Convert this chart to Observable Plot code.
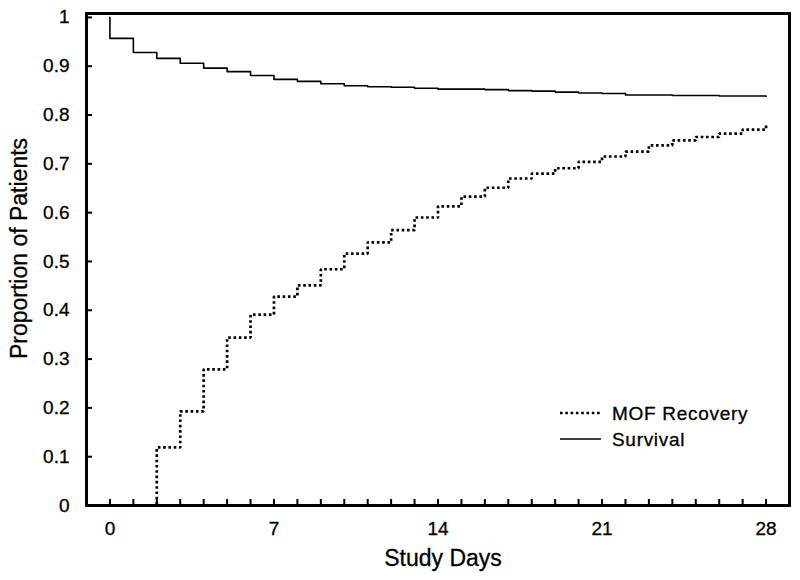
<!DOCTYPE html>
<html>
<head>
<meta charset="utf-8">
<script src="https://cdn.jsdelivr.net/npm/d3@7"></script>
<script src="https://cdn.jsdelivr.net/npm/@observablehq/plot@0.6"></script>
<style>
  body { margin: 0; background: #fff; }
  #chart svg { display: block; }
  #chart svg text { stroke: black; stroke-width: 0.3px; }
</style>
</head>
<body>
<div id="chart"></div>
<script>
// ---- data ----
const survivalDays   = [0, 0, 1, 2, 3, 4, 5, 6, 7, 8, 9, 10, 11, 12, 13, 14, 15, 16, 17, 18, 19, 20, 21, 22, 23, 24, 25, 26, 27, 28];
const survivalValues = [1.0, 0.957, 0.928, 0.916, 0.906, 0.896, 0.889, 0.881, 0.873, 0.869, 0.864, 0.860, 0.858, 0.857, 0.855, 0.853, 0.853, 0.852, 0.850, 0.849, 0.847, 0.845, 0.844, 0.841, 0.841, 0.840, 0.840, 0.839, 0.839, 0.838];

const recoveryDays   = [0, 1, 2, 3, 4, 5, 6, 7, 8, 9, 10, 11, 12, 13, 14, 15, 16, 17, 18, 19, 20, 21, 22, 23, 24, 25, 26, 27, 28];
const recoveryValues = [0, 0, 0.119, 0.193, 0.279, 0.344, 0.391, 0.428, 0.451, 0.484, 0.516, 0.539, 0.564, 0.590, 0.613, 0.633, 0.651, 0.670, 0.680, 0.691, 0.704, 0.715, 0.725, 0.738, 0.748, 0.755, 0.762, 0.770, 0.783];

const seriesNames = ["MOF Recovery", "Survival"];
const xTickDays   = [0, 1, 2, 3, 4, 5, 6, 7, 8, 9, 10, 11, 12, 13, 14, 15, 16, 17, 18, 19, 20, 21, 22, 23, 24, 25, 26, 27, 28];
const xTickLabels = [0, 7, 14, 21, 28];
const yTicks      = [0, 0.1, 0.2, 0.3, 0.4, 0.5, 0.6, 0.7, 0.8, 0.9, 1];
const xTitle = "Study Days";
const yTitle = "Proportion of Patients";

// ---- tables ----
const survival = survivalDays.map((d, i) => ({day: d, value: survivalValues[i]}));
const recovery = recoveryDays.map((d, i) => ({day: d, value: recoveryValues[i]}));

const FONT = "'Liberation Sans', Arial, Helvetica, sans-serif";
const dotted = "2.6,2.7";

// legend drawn inside the frame, bottom-right
function legend(index, scales, values, dims) {
  const g = d3.create("svg:g");
  const right = dims.width - dims.marginRight;
  const bottom = dims.height - dims.marginBottom;
  const styles = [
    {dash: dotted, width: 2.7},
    {dash: null, width: 1.6}
  ];
  seriesNames.forEach((name, i) => {
    const y = bottom - 92 + i * 26;
    g.append("line")
      .attr("x1", right - 229).attr("x2", right - 188)
      .attr("y1", y).attr("y2", y)
      .attr("stroke", "black")
      .attr("stroke-width", styles[i].width)
      .attr("stroke-linecap", "butt")
      .attr("stroke-dasharray", styles[i].dash);
    g.append("text")
      .attr("x", right - 177).attr("y", y)
      .attr("dy", "0.36em")
      .attr("text-anchor", "start")
      .attr("font-size", 19)
      .attr("letter-spacing", "0.7px")
      .attr("font-family", FONT)
      .attr("fill", "black")
      .text(name);
  });
  return g.node();
}

const chart = Plot.plot({
  width: 800,
  height: 580,
  marginLeft: 86,
  marginRight: 11,
  marginTop: 13,
  marginBottom: 75,
  x: {domain: [-1, 29]},
  y: {domain: [0, 1.008]},
  style: {fontFamily: FONT, background: "white", color: "black", overflow: "visible"},
  marks: [
    // inward minor ticks
    Plot.axisX(xTickDays, {tickSize: 6, dy: -6, strokeWidth: 2, tickFormat: () => "", label: null}),
    Plot.axisY(yTicks, {tickSize: 6, dx: 6, strokeWidth: 2, tickFormat: () => "", label: null}),
    // tick labels
    Plot.axisX(xTickLabels, {tickSize: 0, tickPadding: 16, fontSize: 19, letterSpacing: "0.7px", tickFormat: d => String(d), label: null}),
    Plot.axisY(yTicks, {tickSize: 0, tickPadding: 17, fontSize: 19, letterSpacing: "0.7px", tickFormat: d => String(d), label: null}),
    // curves
    Plot.line(recovery, {x: "day", y: "value", curve: "step-after", stroke: "black", strokeWidth: 2.7, strokeDasharray: dotted, strokeLinecap: "butt", strokeLinejoin: "miter"}),
    Plot.line(survival, {x: "day", y: "value", curve: "step-after", stroke: "black", strokeWidth: 1.6}),
    Plot.frame({stroke: "black", strokeWidth: 3}),
    // axis titles
    Plot.text([xTitle], {frameAnchor: "bottom", textAnchor: "middle", lineAnchor: "middle", dx: 5, dy: 53, fontSize: 23, letterSpacing: "0.8px", text: d => d}),
    Plot.text([yTitle], {frameAnchor: "left", textAnchor: "middle", lineAnchor: "middle", rotate: -90, dx: -67, dy: -11, fontSize: 23, letterSpacing: "0.8px", text: d => d}),
    legend
  ]
});
document.getElementById("chart").appendChild(chart);
</script>
</body>
</html>
